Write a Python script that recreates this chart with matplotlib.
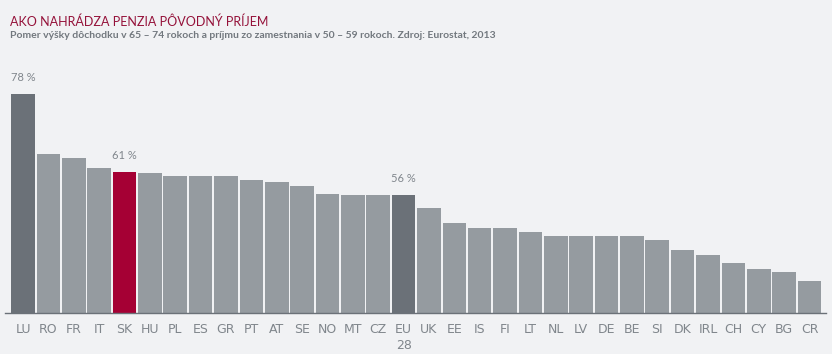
import matplotlib
matplotlib.use("Agg")
import matplotlib.pyplot as plt
import numpy as np

# --- Data ---
countries = ["LU", "RO", "FR", "IT", "SK", "HU", "PL", "ES", "GR", "PT", "AT",
             "SE", "NO", "MT", "CZ", "EU\n28", "UK", "EE", "IS", "FI", "LT",
             "NL", "LV", "DE", "BE", "SI", "DK", "IRL", "CH", "CY", "BG", "CR"]
ratios = [78, 64.9, 64.1, 61.9, 61, 60.8, 60.1, 60.1, 60.1, 59.3, 58.8,
          58.0, 56.2, 56, 56, 56, 53.2, 49.9, 48.8, 48.8, 47.9,
          47.1, 47.1, 47.1, 47.1, 46.2, 44.0, 42.9, 41.2, 39.9, 39.2, 37.3]
labelled = {"LU": "78 %", "SK": "61 %", "EU\n28": "56 %"}

BG = "#f1f2f4"
GREY = "#959ba0"
DARK = "#6b7178"
RED = "#a50034"
TEXT = "#80868c"

colors = []
for c in countries:
    if c == "SK":
        colors.append(RED)
    elif c in ("LU", "EU\n28"):
        colors.append(DARK)
    else:
        colors.append(GREY)

fig = plt.figure(figsize=(8.32, 3.54), dpi=100, facecolor=BG)
ax = fig.add_axes([5 / 832, 41 / 354, 821 / 832, 253 / 354], facecolor=BG)

x = np.arange(len(countries))
ax.bar(x, ratios, width=0.93, color=colors, zorder=2)

for i, c in enumerate(countries):
    if c in labelled:
        ax.annotate(labelled[c], (x[i], ratios[i]), xytext=(0, 8),
                    textcoords="offset points", ha="center", va="bottom",
                    fontsize=8, color=TEXT, family=["Lato", "DejaVu Sans"])

ax.set_xlim(-0.71, 31.65)
ax.set_ylim(30.3, 85.4)
ax.set_xticks(x)
ax.set_xticklabels(countries, fontsize=9, color=TEXT, linespacing=1.3,
                   family=["Liberation Sans Narrow", "DejaVu Sans"])
ax.tick_params(axis="x", length=0, pad=7)
ax.set_yticks([])
for s in ["top", "right", "left"]:
    ax.spines[s].set_visible(False)
ax.spines["bottom"].set_color(DARK)
ax.spines["bottom"].set_linewidth(1)

fig.text(10 / 832, 1 - 22 / 354, "AKO NAHRÁDZA PENZIA PÔVODNÝ PRÍJEM",
         color="#95123a", fontsize=9, va="center", ha="left",
         family=["Lato", "DejaVu Sans"])
fig.text(10 / 832, 1 - 36 / 354,
         "Pomer výšky dôchodku v 65 – 74 rokoch a príjmu zo zamestnania v 50 – 59 rokoch. Zdroj: Eurostat, 2013",
         color="#72787e", fontsize=7.5, fontweight="bold", va="center", ha="left",
         family=["Lato", "DejaVu Sans"])

fig.savefig("out.png", dpi=100, facecolor=BG)
